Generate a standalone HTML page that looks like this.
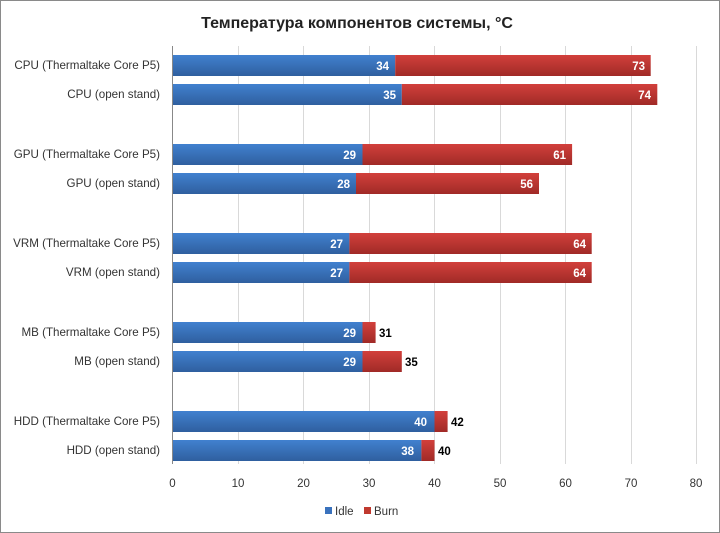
<!DOCTYPE html>
<html><head><meta charset="utf-8"><style>
body{margin:0;background:#fff}
svg{display:block;font-family:"Liberation Sans",sans-serif}
</style></head><body>
<svg width="720" height="533" viewBox="0 0 720 533" xmlns="http://www.w3.org/2000/svg">
<defs>
<linearGradient id="b" x1="0" y1="0" x2="0" y2="1"><stop offset="0" stop-color="#4181cf"/><stop offset="1" stop-color="#2f5f9f"/></linearGradient>
<linearGradient id="r" x1="0" y1="0" x2="0" y2="1"><stop offset="0" stop-color="#d2403c"/><stop offset="1" stop-color="#a02a27"/></linearGradient>
</defs>
<rect x="0.5" y="0.5" width="719" height="532" fill="#fff" stroke="#8a8a8a"/>
<text x="357" y="28" text-anchor="middle" font-size="16" font-weight="bold" fill="#222">Температура компонентов системы, °С</text>
<g stroke="#d9d9d9" stroke-width="1">
<line x1="238.5" y1="46" x2="238.5" y2="464"/><line x1="303.5" y1="46" x2="303.5" y2="464"/>
<line x1="369.5" y1="46" x2="369.5" y2="464"/><line x1="434.5" y1="46" x2="434.5" y2="464"/>
<line x1="500.5" y1="46" x2="500.5" y2="464"/><line x1="565.5" y1="46" x2="565.5" y2="464"/>
<line x1="631.5" y1="46" x2="631.5" y2="464"/><line x1="696.5" y1="46" x2="696.5" y2="464"/>
</g>
<line x1="172.5" y1="46" x2="172.5" y2="464" stroke="#888"/>
<g font-size="11.6" fill="#333" text-anchor="end">
<text x="160" y="69">CPU (Thermaltake Core P5)</text>
<text x="160" y="98">CPU (open stand)</text>
<text x="160" y="158">GPU (Thermaltake Core P5)</text>
<text x="160" y="187">GPU (open stand)</text>
<text x="160" y="247">VRM (Thermaltake  Core P5)</text>
<text x="160" y="276">VRM (open stand)</text>
<text x="160" y="336">MB (Thermaltake Core P5)</text>
<text x="160" y="365">MB (open stand)</text>
<text x="160" y="425">HDD (Thermaltake  Core P5)</text>
<text x="160" y="454">HDD (open stand)</text>
</g>
<g font-size="11.5" font-weight="bold">
<rect x="173" y="55" width="222.2" height="21" fill="url(#b)"/><rect x="395.2" y="55" width="255.5" height="21" fill="url(#r)"/>
<text x="389" y="70" fill="#fff" text-anchor="end">34</text><text x="645" y="70" fill="#fff" text-anchor="end">73</text>
<rect x="173" y="84" width="228.8" height="21" fill="url(#b)"/><rect x="401.8" y="84" width="255.5" height="21" fill="url(#r)"/>
<text x="396" y="99" fill="#fff" text-anchor="end">35</text><text x="651" y="99" fill="#fff" text-anchor="end">74</text>

<rect x="173" y="144" width="189.5" height="21" fill="url(#b)"/><rect x="362.5" y="144" width="209.6" height="21" fill="url(#r)"/>
<text x="356" y="159" fill="#fff" text-anchor="end">29</text><text x="566" y="159" fill="#fff" text-anchor="end">61</text>
<rect x="173" y="173" width="183" height="21" fill="url(#b)"/><rect x="356" y="173" width="183" height="21" fill="url(#r)"/>
<text x="350" y="188" fill="#fff" text-anchor="end">28</text><text x="533" y="188" fill="#fff" text-anchor="end">56</text>

<rect x="173" y="233" width="176.4" height="21" fill="url(#b)"/><rect x="349.4" y="233" width="242.3" height="21" fill="url(#r)"/>
<text x="343" y="248" fill="#fff" text-anchor="end">27</text><text x="586" y="248" fill="#fff" text-anchor="end">64</text>
<rect x="173" y="262" width="176.4" height="21" fill="url(#b)"/><rect x="349.4" y="262" width="242.3" height="21" fill="url(#r)"/>
<text x="343" y="277" fill="#fff" text-anchor="end">27</text><text x="586" y="277" fill="#fff" text-anchor="end">64</text>

<rect x="173" y="322" width="189.5" height="21" fill="url(#b)"/><rect x="362.5" y="322" width="13.1" height="21" fill="url(#r)"/>
<text x="356" y="337" fill="#fff" text-anchor="end">29</text><text x="379" y="337" fill="#000">31</text>
<rect x="173" y="351" width="189.5" height="21" fill="url(#b)"/><rect x="362.5" y="351" width="39.3" height="21" fill="url(#r)"/>
<text x="356" y="366" fill="#fff" text-anchor="end">29</text><text x="405" y="366" fill="#000">35</text>

<rect x="173" y="411" width="261.5" height="21" fill="url(#b)"/><rect x="434.5" y="411" width="13.1" height="21" fill="url(#r)"/>
<text x="427" y="426" fill="#fff" text-anchor="end">40</text><text x="451" y="426" fill="#000">42</text>
<rect x="173" y="440" width="248.4" height="21" fill="url(#b)"/><rect x="421.4" y="440" width="13.1" height="21" fill="url(#r)"/>
<text x="414" y="455" fill="#fff" text-anchor="end">38</text><text x="438" y="455" fill="#000">40</text>
</g>
<g font-size="11.5" fill="#333" text-anchor="middle">
<text x="172.5" y="487">0</text><text x="238" y="487">10</text><text x="303.5" y="487">20</text>
<text x="369" y="487">30</text><text x="434.5" y="487">40</text><text x="500" y="487">50</text>
<text x="565.5" y="487">60</text><text x="631" y="487">70</text><text x="696" y="487">80</text>
</g>
<rect x="325" y="507" width="7" height="7" fill="#3a72bd"/>
<text x="335" y="515" font-size="11.5" fill="#333">Idle</text>
<rect x="364" y="507" width="7" height="7" fill="#c0392f"/>
<text x="374" y="515" font-size="11.5" fill="#333">Burn</text>
</svg>
</body></html>
